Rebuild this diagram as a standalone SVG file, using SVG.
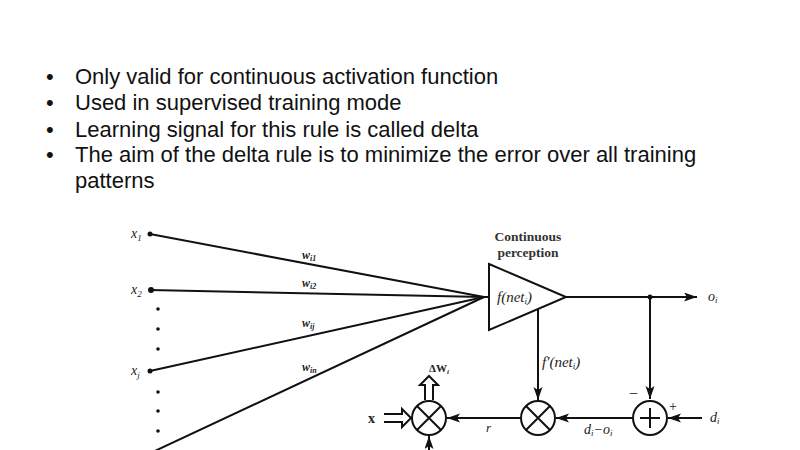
<svg xmlns="http://www.w3.org/2000/svg" width="800" height="450" viewBox="0 0 800 450">
<defs>
<style>
.bul{font-family:"Liberation Sans",Arial,sans-serif;font-size:22px;fill:#111}
.lab{font-family:"Liberation Serif","Times New Roman",serif;font-style:italic;font-size:14px;fill:#222}
.wl{font-family:"Liberation Serif","Times New Roman",serif;font-style:italic;font-weight:bold;font-size:12px;fill:#222}
.up{font-family:"Liberation Serif","Times New Roman",serif;font-style:normal;font-size:14px;fill:#222}
.ttl{font-family:"Liberation Serif","Times New Roman",serif;font-weight:bold;font-size:13.5px;fill:#333}
.ln{stroke:#111;stroke-width:2;fill:none}
.nd{stroke:#111;stroke-width:2;fill:#fff}
.dot{fill:#111}
</style>
<marker id="ah" markerUnits="userSpaceOnUse" markerWidth="14" markerHeight="10" refX="13" refY="4.5" orient="auto">
<path d="M0,0 L13,4.5 L0,9 L3,4.5 z" fill="#111"/>
</marker>
</defs>
<rect width="800" height="450" fill="#fff"/>
<g id="bullets">
<text class="bul" x="46" y="84">•</text>
<text class="bul" x="75" y="84">Only valid for continuous activation function</text>
<text class="bul" x="46" y="110">•</text>
<text class="bul" x="75" y="110">Used in supervised training mode</text>
<text class="bul" x="46" y="137">•</text>
<text class="bul" x="75" y="137">Learning signal for this rule is called delta</text>
<text class="bul" x="46" y="162">•</text>
<text class="bul"><tspan x="75" y="162">The aim of the delta rule is to minimize the error over all training</tspan><tspan x="75" y="187.5">patterns</tspan></text>
</g>
<g id="connectors">
<line class="ln" x1="150" y1="234" x2="484" y2="297"/>
<line class="ln" x1="150" y1="290" x2="484" y2="297"/>
<line class="ln" x1="150" y1="371" x2="484" y2="297"/>
<line class="ln" x1="142" y1="457" x2="484" y2="297"/>
<line class="ln" x1="484" y1="297" x2="489" y2="297"/>
<line class="ln" x1="566" y1="297" x2="697" y2="297" marker-end="url(#ah)"/>
<line class="ln" x1="650" y1="297" x2="650" y2="399" marker-end="url(#ah)"/>
<line class="ln" x1="538" y1="309" x2="538" y2="400" marker-end="url(#ah)"/>
<line class="ln" x1="702" y1="418" x2="668" y2="418" marker-end="url(#ah)"/>
<line class="ln" x1="632" y1="418" x2="556" y2="418" marker-end="url(#ah)"/>
<line class="ln" x1="520" y1="418" x2="447" y2="418" marker-end="url(#ah)"/>
<line class="ln" x1="429" y1="452" x2="429" y2="436" marker-end="url(#ah)"/>
<path class="ln" d="M384,414 H402 V409 L411,418 L402,427 V422 H384" stroke-width="1.8"/>
<path class="ln" d="M425,400 V385 H420 L429,376 L438,385 H433 V400" stroke-width="1.8"/>
<circle class="dot" cx="650" cy="297" r="2.5"/>
</g>
<g id="inputs">
<circle class="dot" cx="150" cy="234" r="2.5"/>
<circle class="dot" cx="151" cy="290" r="3"/>
<circle class="dot" cx="150" cy="371" r="2.5"/>
<circle class="dot" cx="158" cy="309" r="1.8"/>
<circle class="dot" cx="158" cy="329" r="1.8"/>
<circle class="dot" cx="158" cy="349" r="1.8"/>
<circle class="dot" cx="158" cy="392" r="1.8"/>
<circle class="dot" cx="158" cy="411" r="1.8"/>
<circle class="dot" cx="158" cy="431" r="1.8"/>
<text class="lab" x="131" y="238">x<tspan font-size="9" dy="3">1</tspan></text>
<text class="lab" x="131" y="294">x<tspan font-size="9" dy="3">2</tspan></text>
<text class="lab" x="131" y="375">x<tspan font-size="9" dy="3">j</tspan></text>
<text class="wl" x="302" y="259">w<tspan font-size="8" dy="2">i1</tspan></text>
<text class="wl" x="302" y="287">w<tspan font-size="8" dy="2">i2</tspan></text>
<text class="wl" x="302" y="327">w<tspan font-size="8" dy="2">ij</tspan></text>
<text class="wl" x="302" y="371">w<tspan font-size="8" dy="2">in</tspan></text>
</g>
<g id="neuron">
<polygon class="nd" points="489,264 566,297 489,330"/>
<text class="ttl" x="528" y="241" text-anchor="middle">Continuous</text>
<text class="ttl" x="528" y="257" text-anchor="middle">perception</text>
<text class="lab" x="497" y="302" style="font-size:15px">f(net<tspan font-size="9" dy="2">i</tspan><tspan dy="-2">)</tspan></text>
<text class="lab" x="708" y="301">o<tspan font-size="9" dy="2">i</tspan></text>
</g>
<g id="sum">
<circle class="nd" cx="650" cy="418" r="17"/>
<path class="ln" d="M640,418 H660 M650,408 V428" stroke-width="3"/>
<text class="up" x="629" y="399" style="font-size:16px">−</text>
<text class="up" x="669" y="411">+</text>
<text class="lab" x="710" y="422">d<tspan font-size="9" dy="2">i</tspan></text>
<text class="lab" x="584" y="434">d<tspan font-size="9" dy="2">i</tspan><tspan dy="-2">−o</tspan><tspan font-size="9" dy="2">i</tspan></text>
</g>
<g id="mult2">
<circle class="nd" cx="538" cy="418" r="17"/>
<path class="ln" d="M526,406 L550,430 M550,406 L526,430"/>
<text class="lab" x="542" y="367" style="font-size:15px">f′(net<tspan font-size="9" dy="2">i</tspan><tspan dy="-2">)</tspan></text>
<text class="lab" x="486" y="432" style="font-size:13px">r</text>
</g>
<g id="mult1">
<circle class="nd" cx="429" cy="418" r="17"/>
<path class="ln" d="M417,406 L441,430 M441,406 L417,430"/>
<text class="up" x="429" y="372" style="font-size:11px;font-weight:bold">ΔW<tspan font-size="7" dy="2" font-style="italic">i</tspan></text>
<text class="up" x="368" y="423" style="font-weight:bold">x</text>
</g>
</svg>
